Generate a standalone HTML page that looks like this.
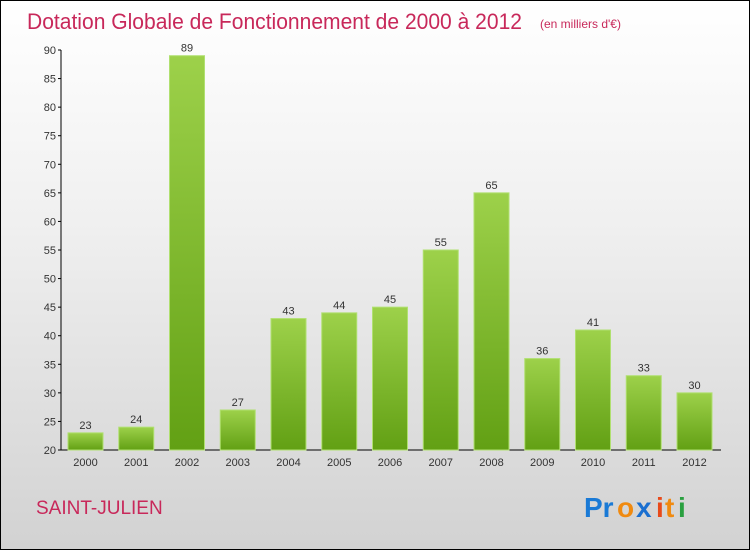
<!DOCTYPE html>
<html><head><meta charset="utf-8"><style>
body{margin:0;width:750px;height:550px;overflow:hidden}
#c{position:absolute;left:0;top:0;width:748px;height:548px;border:1px solid #000;background:linear-gradient(#ffffff 0%,#f0f0f0 40%,#d2d2d2 100%)}
text{font-family:"Liberation Sans",sans-serif}
</style></head><body>
<div id="c">
<svg id="s" width="750" height="550" style="position:absolute;left:-1px;top:-1px">
<defs><linearGradient id="g" x1="0" y1="0" x2="0" y2="1"><stop offset="0" stop-color="#9dd14a"/><stop offset="1" stop-color="#62a014"/></linearGradient></defs>
<text x="27" y="29" font-size="22" fill="#c8285a" textLength="495" lengthAdjust="spacingAndGlyphs">Dotation Globale de Fonctionnement de 2000 à 2012</text>
<text x="540" y="28" font-size="12" fill="#c8285a">(en milliers d'€)</text>
<text x="36" y="514" font-size="19" fill="#c8285a">SAINT-JULIEN</text>
<g font-size="28" font-weight="bold">
<text x="584" y="517" fill="#1a7ad6">Pr</text><text x="617" y="517" fill="#f08a10">o</text><text x="636" y="517" fill="#1a6fd0">x</text><text x="656" y="517" fill="#e84a1a">i</text><text x="665" y="517" fill="#f08a10">t</text><text x="678" y="517" fill="#2aa040">i</text>
</g>
<g id="plot"></g>
</svg></div>
<script>
const categories=["2000","2001","2002","2003","2004","2005","2006","2007","2008","2009","2010","2011","2012"];
const values=[23,24,89,27,43,44,45,55,65,36,41,33,30];
const yTicks=[20,25,30,35,40,45,50,55,60,65,70,75,80,85,90];
const ns="http://www.w3.org/2000/svg";
const g=document.getElementById('plot');
const y=v=>450-(v-20)*400/70;
const x=i=>85.5+i*50.75;
function mk(t,a,p){const e=document.createElementNS(ns,t);for(const k in a)e.setAttribute(k,a[k]);(p||g).appendChild(e);return e;}
let ax=mk('line',{x1:61,y1:50,x2:61,y2:450,stroke:'#000'});


let bx=mk('line',{x1:61,y1:450,x2:721,y2:450,stroke:'#000'});


yTicks.forEach(v=>{
 mk('line',{x1:58,y1:y(v),x2:61,y2:y(v),stroke:'#000'});
 const t=mk('text',{x:56,y:y(v)+4,'text-anchor':'end','font-size':11,fill:'#333'});
 t.textContent=v;
 
 
});
categories.forEach((c,i)=>{
 const r=mk('rect',{x:x(i)-17.5,y:y(values[i]),width:35,height:450-y(values[i]),fill:'url(#g)',stroke:'#b0e070','stroke-width':1});
 
 
 const l=mk('text',{x:x(i),y:y(values[i])-4,'text-anchor':'middle','font-size':11,fill:'#333'});
 l.textContent=values[i];
 
 
 const t=mk('text',{x:x(i),y:466,'text-anchor':'middle','font-size':11,fill:'#333'});
 t.textContent=c;
 
 
});
</script>
</body></html>
